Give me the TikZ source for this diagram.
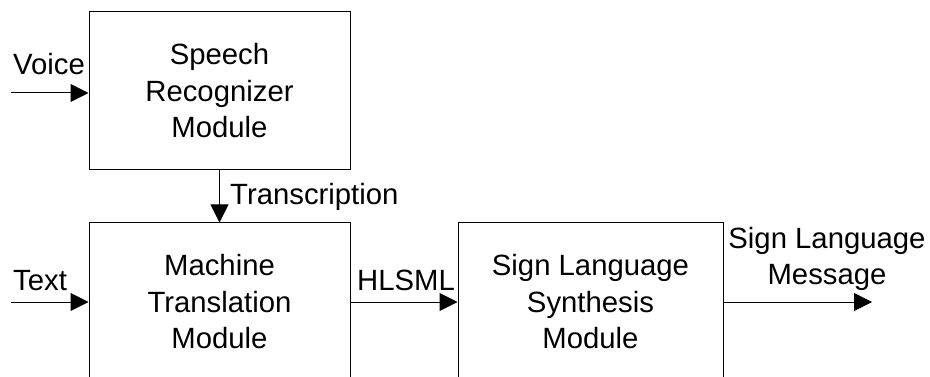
\documentclass[tikz,border=0pt]{standalone}
\usepackage{fontspec}
\setmainfont{Liberation Sans}
\usetikzlibrary{arrows.meta}
\begin{document}
\begin{tikzpicture}[x=1pt,y=-1pt,
  txt/.style={font=\fontsize{29.3}{36.5}\selectfont},
  module/.style={txt, draw, line width=1pt, minimum width=261pt, minimum height=158pt,
                 align=center, inner sep=0pt},
  lbl/.style={txt, inner sep=0pt},
  flow/.style={line width=1pt, -{Triangle[length=18pt,width=18pt]}}]
\useasboundingbox (0,0) rectangle (930,377);
\clip (0,0) rectangle (930,377);

% modules
\node[module] (sr) at (219.5,91) {Speech\\Recognizer\\Module};
\node[module] (mt) at (219.5,302) {Machine\\Translation\\Module};
\node[module, minimum width=265pt] (sl) at (590.5,302) {Sign Language\\Synthesis\\Module};

% free ends of the inputs and the output
\coordinate (vin) at (11,93);
\coordinate (tin) at (11,302);
\coordinate (out) at (872,302);

% connectors
\draw[flow] (vin) -- (vin -| sr.west);
\draw[flow] (sr.south) -- (mt.north);
\draw[flow] (tin) -- (tin -| mt.west);
\draw[flow] (mt.east) -- (sl.west);
\draw[flow] (sl.east) -- (out);

% labels
\node[lbl, anchor=base west] (voice) at (13,75) {Voice};
\node[lbl, anchor=base west] (transcription) at (230,205) {Transcription};
\node[lbl, anchor=base west] (text) at (13,290) {Text};
\node[lbl, anchor=base west] (hlsml) at (357,290) {HLSML};
\node[lbl, anchor=south, align=center] (message) at (827,291) {Sign Language\\Message};
\end{tikzpicture}
\end{document}
